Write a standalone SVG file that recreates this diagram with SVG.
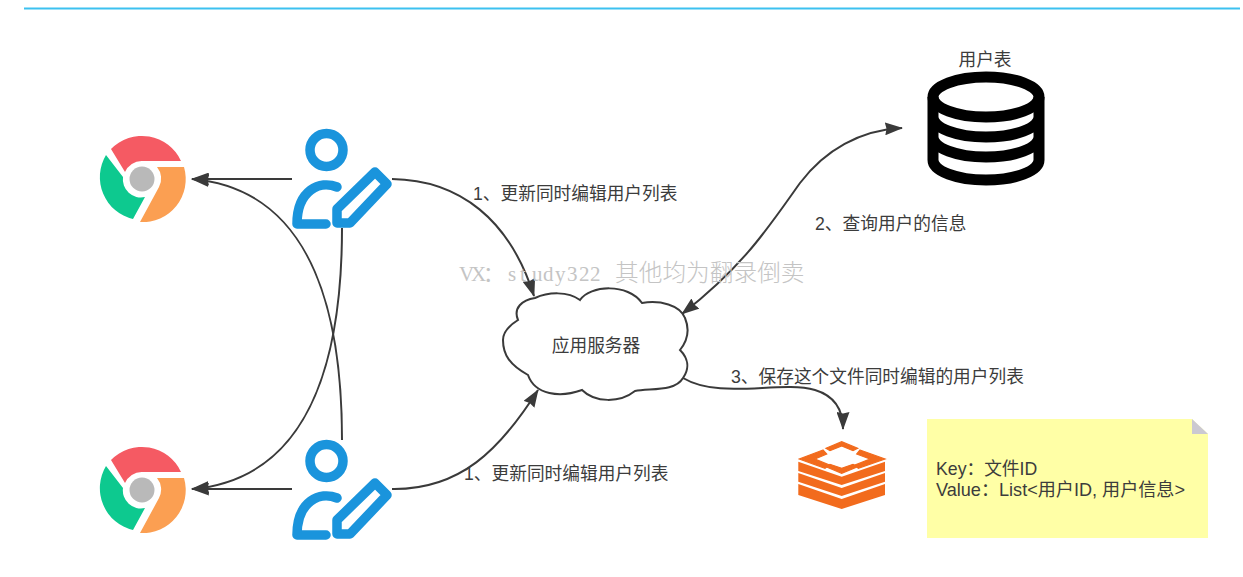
<svg xmlns="http://www.w3.org/2000/svg" xmlns:xlink="http://www.w3.org/1999/xlink" width="1243" height="577" viewBox="0 0 1243 577">
<style>
text{font-family:"Liberation Sans","Noto Sans CJK SC",sans-serif;fill:#3c3c3c}
.lb{font-size:17.7px}
.c{fill:none;stroke:#3a3a3a;stroke-width:2}
.blue{fill:none;stroke:#1a94dc;stroke-width:9.500;stroke-linecap:round;stroke-linejoin:round}
.db{fill:none;stroke:#000;stroke-width:11}
.or{fill:#f26b1d}
.ch{stroke:#f26b1d;stroke-width:1.200}
.wm{fill:#c4c4c4}
</style>
<defs>
<marker id="ah" viewBox="0 0 18 13" refX="17" refY="6.500" markerWidth="18" markerHeight="13" markerUnits="userSpaceOnUse" orient="auto-start-reverse"><path d="M0,0L18,6.500L0,13L1.500,6.500Z" fill="#3a3a3a"/></marker>
<symbol id="chrome" overflow="visible" viewBox="-45 -45 90 90" width="90" height="90">
<path d="M-31,-30A43,43 0 0 1 39,-18L0,-18A18,18 0 0 0 -17,-7Z" fill="#f55a63"/>
<path d="M15,-12L42,-12A43,43 0 0 1 -2,43L17,8A18,18 0 0 0 15,-12Z" fill="#fb9f52"/>
<path d="M-36,-24A43,43 0 0 0 -9,40L3,18A18,18 0 0 1 -19,-2Z" fill="#0dc98f"/>
<circle r="12.5" fill="#b9b9b9"/>
</symbol>
<symbol id="editor" overflow="visible" viewBox="0 0 110 110" width="110" height="110">
<circle cx="36.5" cy="30" r="16.5" class="blue"/>
<path d="M47,67C30,60 7,70 7,104L36,104" class="blue"/>
<path d="M47,103L47,89L85,52L97,64L60,103Z" class="blue"/>
</symbol>
</defs>
<rect width="1243" height="577" fill="#fff"/>
<path d="M24,8.5H1240" stroke="#3cc1f0" stroke-width="2" fill="none"/>
<g id="connectors">
<path class="c" d="M292,179H192" marker-end="url(#ah)"/>
<path class="c" d="M342,440C342,330 320,190 192,179" marker-end="url(#ah)"/>
<path class="c" d="M342,228C342,338 320,478 192,489" marker-end="url(#ah)"/>
<path class="c" d="M292,489H192" marker-end="url(#ah)"/>
<path class="c" d="M392,179C460,180 510,220 534,296" marker-end="url(#ah)"/>
<path class="c" d="M392,489C460,490 500,450 538,390" marker-end="url(#ah)"/>
<path class="c" d="M902,128C860,130 825,150 800,183C770,225 745,265 682,314" marker-start="url(#ah)" marker-end="url(#ah)"/>
<path class="c" d="M683,378C720,400 780,380 815,390C835,396 843,410 843,429" marker-end="url(#ah)"/>
</g>
<g id="chrome-top"><use xlink:href="#chrome" href="#chrome" x="97" y="134"/></g>
<g id="chrome-bottom"><use xlink:href="#chrome" href="#chrome" x="97" y="445"/></g>
<g id="editor-top"><use xlink:href="#editor" href="#editor" x="290" y="120"/></g>
<g id="editor-bottom"><use xlink:href="#editor" href="#editor" x="290" y="431"/></g>
<g id="label-1a"><text class="lb" x="473" y="200">1、更新同时编辑用户列表</text></g>
<g id="label-1b"><text class="lb" x="464" y="480">1、更新同时编辑用户列表</text></g>
<g id="label-2"><text class="lb" x="815" y="230">2、查询用户的信息</text></g>
<g id="label-3"><text class="lb" x="731" y="383">3、保存这个文件同时编辑的用户列表</text></g>
<g id="server">
<path d="M535,298C548,292 568,291 580,300C590,285 628,283 642,303C660,300 680,305 685,318C690,330 688,340 680,350C688,358 690,368 683,378C675,392 650,388 635,391C620,403 595,403 582,390C560,398 535,395 528,375C510,365 503,355 503,340C503,332 510,325 518,320C513,308 522,300 535,298Z" fill="#fff" stroke="#3a3a3a" stroke-width="2"/>
<text class="lb" x="596" y="352" text-anchor="middle">应用服务器</text>
</g>
<g id="user-table">
<text class="lb" x="985" y="66" text-anchor="middle">用户表</text>
<ellipse class="db" cx="986" cy="97" rx="53" ry="20"/>
<path class="db" d="M933,97V160A53,20 0 0 0 1039,160V97M933,117A53,20 0 0 0 1039,117M933,137A53,20 0 0 0 1039,137"/>
</g>
<g id="redis">
<path class="or ch" d="M826,448.300L841.700,441.700L857.700,448.300L853,450.700L841.700,446L830,450.700Z"/>
<path class="or ch" d="M860,450L885,459L858.300,468.300L855,465L870,459L856.700,454Z"/>
<path class="or ch" d="M823,450L799.300,459L825,468.300L829.300,465L815,459L826.700,454Z"/>
<path class="or ch" d="M826,466.700L841.700,473.300L857.700,466.700L853,464.300L841.700,468.300L830,464.300Z"/>
<path class="or" d="M798.300,461.700L841.700,476.700L885,461.700V471L841.700,485L798.300,471Z"/>
<path class="or" d="M798.300,473L841.700,488L885,473V481.700L841.700,496L798.300,481.700Z"/>
<path class="or" d="M798.300,484L841.700,499L885,484V495L841.700,509L798.300,495Z"/>
</g>
<g id="note">
<path d="M927,419H1192L1208,434V538H927Z" fill="#ffffa6"/>
<path d="M1192,419L1208,434H1192Z" fill="#cbc9d2"/>
<text x="936" y="475" style="font-size:17.7px">Key：文件ID</text>
<text x="936" y="496" style="font-size:18.1px">Value：List&lt;用户ID, 用户信息&gt;</text>
</g>
<g id="watermark">
<text class="wm" x="459 471 483 508 520 532 543 555 567 579 590" y="281" style="font-family:'Liberation Serif','Noto Sans CJK SC',serif;font-size:21px">VX：study322</text>
<text class="wm" x="615" y="281" style="font-size:23.7px;font-family:'Noto Sans CJK SC',sans-serif;font-weight:300">其他均为翻录倒卖</text>
</g>
</svg>
